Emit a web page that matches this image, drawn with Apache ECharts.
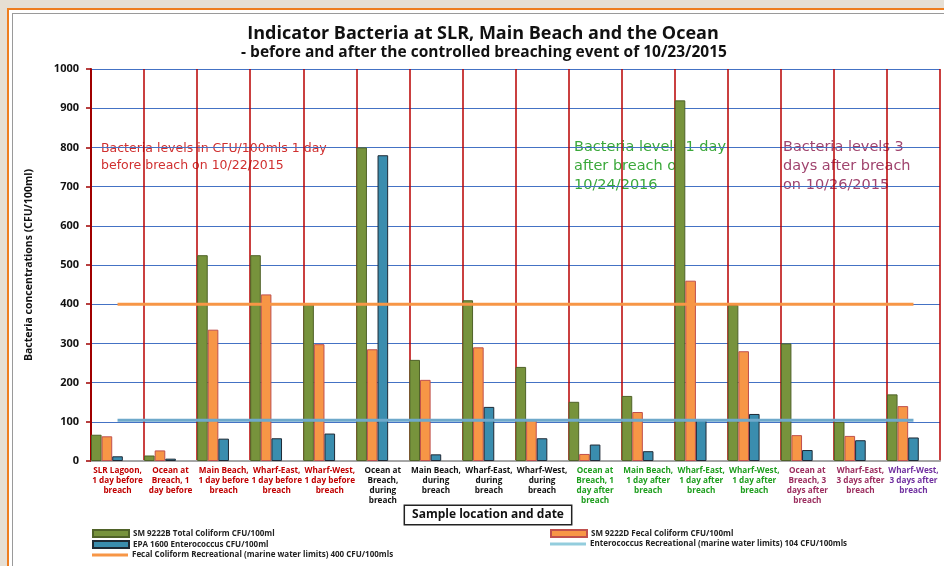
<!DOCTYPE html>
<html>
<head>
<meta charset="utf-8">
<script src="https://cdn.jsdelivr.net/npm/echarts@6/dist/echarts.min.js"></script>
<style>
html,body{margin:0;padding:0;width:944px;height:566px;overflow:hidden;background:#E6DFD4;}
#f1{position:absolute;left:7px;top:8px;width:960px;height:600px;border:2px solid #EE7D1F;background:#fff;}
#f2{position:absolute;left:12px;top:13px;width:960px;height:600px;border:1.5px solid #9A9A9A;}
#chart{position:absolute;left:0;top:0;width:944px;height:566px;}
</style>
</head>
<body>
<div id="f1"></div>
<div id="f2"></div>
<div id="chart"></div>
<script>
var categories = [
  "SLR Lagoon,\n1 day before\nbreach",
  "Ocean at\nBreach, 1\nday before",
  "Main Beach,\n1 day before\nbreach",
  "Wharf-East,\n1 day before\nbreach",
  "Wharf-West,\n1 day before\nbreach",
  "Ocean at\nBreach,\nduring\nbreach",
  "Main Beach,\nduring\nbreach",
  "Wharf-East,\nduring\nbreach",
  "Wharf-West,\nduring\nbreach",
  "Ocean at\nBreach, 1\nday after\nbreach",
  "Main Beach,\n1 day after\nbreach",
  "Wharf-East,\n1 day after\nbreach",
  "Wharf-West,\n1 day after\nbreach",
  "Ocean at\nBreach, 3\ndays after\nbreach",
  "Wharf-East,\n3 days after\nbreach",
  "Wharf-West,\n3 days after\nbreach"
];
var labelColors = ["#C00000","#C00000","#C00000","#C00000","#C00000",
  "#111111","#111111","#111111","#111111",
  "#1E9E1E","#1E9E1E","#1E9E1E","#1E9E1E",
  "#9B2D5E","#9B2D5E","#7030A0"];
var totalColiform = [67, 14, 525, 525, 400, 800, 258, 410, 240, 151, 166, 920, 398, 300, 100, 170];
var fecalColiform = [63, 27, 335, 425, 298, 285, 207, 290, 106, 18, 125, 460, 280, 66, 64, 140];
var enterococcus  = [12, 6, 57, 58, 70, 780, 17, 138, 58, 42, 25, 106, 120, 28, 53, 60];
var fecalLimit = [400,400,400,400,400,400,400,400,400,400,400,400,400,400,400,400];
var enteroLimit = [104,104,104,104,104,104,104,104,104,104,104,104,104,104,104,104];

var names = {
  tc: "SM 9222B Total Coliform CFU/100ml",
  fc: "SM 9222D Fecal Coliform CFU/100ml",
  en: "EPA 1600 Enterococcus CFU/100ml",
  fl: "Fecal Coliform Recreational (marine water limits) 400 CFU/100mls",
  el: "Enterococcus Recreational (marine water limits) 104 CFU/100mls"
};

var FONT = "'Open Sans', 'Noto Sans', sans-serif";
var WIDE = "'DejaVu Sans', 'Open Sans', sans-serif";
var chart = echarts.init(document.getElementById('chart'), null, {renderer: 'canvas'});

function legendAt(left, top, name, isLine) {
  return {
    left: left, top: top, orient: 'horizontal',
    itemWidth: 36, itemHeight: isLine ? 3 : 7, itemGap: 0,
    padding: 0,
    data: [{name: name, icon: 'rect'}],
    textStyle: {fontFamily: FONT, fontSize: 8, fontWeight: 'bold', color: '#222', padding: [0,0,0,-1]},
    selectedMode: false
  };
}

var option = {
  animation: false,
  backgroundColor: 'transparent',
  grid: {left: 91, right: 4, top: 69, bottom: 105, containLabel: false},
  legend: [
    legendAt(92, 529, names.tc, false),
    legendAt(92, 540, names.en, false),
    legendAt(92, 551, names.fl, true),
    legendAt(550, 529, names.fc, false),
    legendAt(550, 540, names.el, true)
  ],
  xAxis: {
    type: 'category',
    data: categories.map(function (c, i) { return {value: c, textStyle: {color: labelColors[i]}}; }),
    boundaryGap: true,
    axisLine: {lineStyle: {color: '#A6A6A6', width: 2}},
    axisTick: {show: false},
    axisLabel: {interval: 0, margin: 5, fontFamily: FONT, fontSize: 8.2, fontWeight: 'bold', lineHeight: 10},
    splitLine: {show: true, interval: 0, lineStyle: {color: '#B80000', width: 1.5}}
  },
  yAxis: {
    type: 'value', min: 0, max: 1000, interval: 100,
    name: 'Bacteria concentrations (CFU/100ml)',
    nameLocation: 'middle', nameGap: 56, nameRotate: 90,
    nameTextStyle: {fontFamily: FONT, fontSize: 10.5, fontWeight: 'bold', color: '#111'},
    axisLine: {show: true, lineStyle: {color: '#A00000', width: 2}},
    axisTick: {show: true, length: 5, lineStyle: {color: '#A00000', width: 1.5}},
    axisLabel: {margin: 12, fontFamily: FONT, fontSize: 11, fontWeight: 'bold', color: '#111',
      formatter: function (v) { return String(v); }},
    splitLine: {show: true, lineStyle: {color: '#4472C4', width: 1}}
  },
  series: [
    {name: names.tc, type: 'bar', data: totalColiform, barGap: '0%', barCategoryGap: '0%',
     itemStyle: {color: '#77933C', borderColor: '#4F6228', borderWidth: 1}},
    {name: names.fc, type: 'bar', data: fecalColiform,
     itemStyle: {color: '#F79646', borderColor: '#C0504D', borderWidth: 1}},
    {name: names.en, type: 'bar', data: enterococcus,
     itemStyle: {color: '#3A8DAE', borderColor: '#1F2A36', borderWidth: 1}},
    {name: '_spacer1', type: 'bar', data: [], itemStyle: {color: 'transparent'}},
    {name: '_spacer2', type: 'bar', data: [], itemStyle: {color: 'transparent'}},
    {name: names.fl, type: 'line', data: fecalLimit, symbol: 'none', z: 5,
     itemStyle: {color: '#F79646'}, lineStyle: {color: '#F79646', width: 3}},
    {name: names.el, type: 'line', data: enteroLimit, symbol: 'none', z: 5,
     itemStyle: {color: '#93CDDD'}, lineStyle: {color: '#6EA9CB', width: 3}}
  ],
  graphic: [
    {type: 'text', x: 483, y: 34, style: {text: 'Indicator Bacteria at SLR, Main Beach and the Ocean', fontFamily: FONT, fontSize: 18, fontWeight: 'bold', fill: '#111', textAlign: 'center', textVerticalAlign: 'middle'}},
    {type: 'text', x: 484, y: 53, style: {text: '- before and after the controlled breaching event of 10/23/2015', fontFamily: FONT, fontSize: 15.5, fontWeight: 'bold', fill: '#111', textAlign: 'center', textVerticalAlign: 'middle'}},
    {type: 'text', x: 488, y: 515, style: {text: 'Sample location and date', fontFamily: FONT, fontSize: 12, fontWeight: 'bold', fill: '#111', textAlign: 'center', textVerticalAlign: 'middle', borderColor: '#222', borderWidth: 1.5, padding: [3, 7, 3, 7], backgroundColor: '#fff'}},
    {type: 'text', x: 101, y: 140, z: -1, style: {text: 'Bacteria levels in CFU/100mls 1 day\nbefore breach on 10/22/2015', fontFamily: WIDE, fontSize: 12.5, lineHeight: 17, fill: '#D03030', textAlign: 'left', textVerticalAlign: 'top'}},
    {type: 'text', x: 574, y: 138, z: -1, style: {text: 'Bacteria levels 1 day\nafter breach on\n10/24/2016', fontFamily: WIDE, fontSize: 14.5, lineHeight: 19, fill: '#3AA83A', textAlign: 'left', textVerticalAlign: 'top'}},
    {type: 'text', x: 783, y: 138, z: -1, style: {text: 'Bacteria levels 3\ndays after breach\non 10/26/2015', fontFamily: WIDE, fontSize: 14.5, lineHeight: 19, fill: '#A0446E', textAlign: 'left', textVerticalAlign: 'top'}}
  ]
};
chart.setOption(option);
</script>
</body>
</html>
